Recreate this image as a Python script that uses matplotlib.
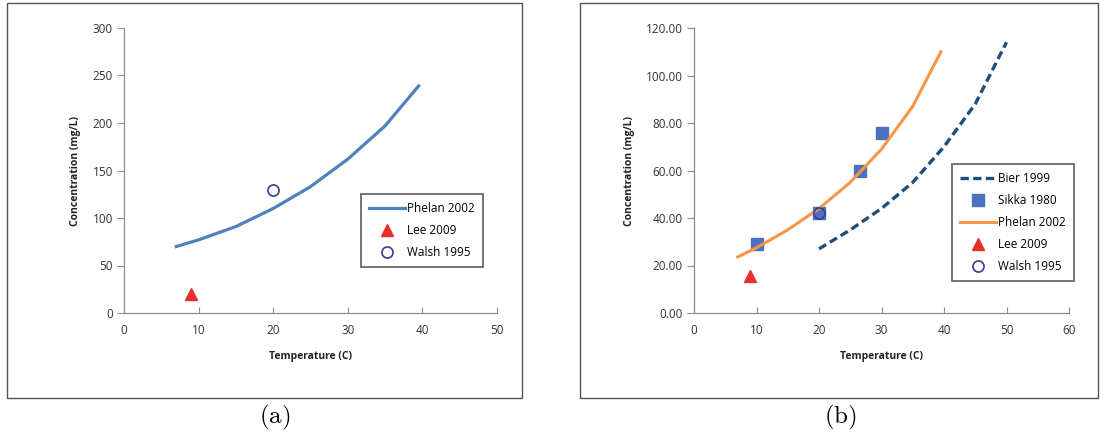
import matplotlib
matplotlib.use("Agg")
import matplotlib.pyplot as plt
from matplotlib.patches import Rectangle

# ---- data ----
phelan_a_t = [7, 10, 15, 20, 25, 30, 35, 39.5]
phelan_a_c = [70, 77, 91, 110, 133, 162, 197, 239]
lee_t = [9]
lee_a_c = [20]
walsh_t = [20]
walsh_a_c = [130]

bier_t = [20, 25, 30, 35, 40, 45, 50]
bier_c = [27, 35, 44, 55, 70, 88, 114]
sikka_t = [10, 20, 26.5, 30]
sikka_c = [29, 42, 60, 76]
phelan_b_t = [7, 10, 15, 20, 25, 30, 35, 39.5]
phelan_b_c = [23.6, 27.5, 35, 44, 55, 69, 87, 110]
lee_b_c = [15.5]
walsh_b_c = [42]

xticks_a = [0, 10, 20, 30, 40, 50]
yticks_a = [0, 50, 100, 150, 200, 250, 300]
xticks_b = [0, 10, 20, 30, 40, 50, 60]
yticks_b = [0, 20, 40, 60, 80, 100, 120]

plt.rcParams['font.family'] = ['Open Sans', 'DejaVu Sans']
W, H = 1101, 436
fig = plt.figure(figsize=(W / 100, H / 100), dpi=100)

BLUE = '#4F81BD'
ORANGE = '#F79646'
RED = '#E8302A'
NAVY = '#3B3B8C'
DARK = '#1F4E79'
GRAY = '#8C8C8C'

# panel frames
for (x0, x1) in [(7, 522), (580, 1098)]:
    fig.patches.append(Rectangle((x0 / W, 1 - 398 / H), (x1 - x0) / W, (398 - 3) / H,
                                 transform=fig.transFigure, fill=False,
                                 edgecolor='#555555', linewidth=1.0))

def style(ax, xt, yt, yfmt):
    for s in ['top', 'right']:
        ax.spines[s].set_visible(False)
    for s in ['left', 'bottom']:
        ax.spines[s].set_color(GRAY)
        ax.spines[s].set_linewidth(0.9)
    ax.set_xticks(xt)
    ax.set_yticks(yt)
    ax.set_yticklabels([yfmt.format(v) for v in yt])
    ax.tick_params(axis='y', direction='out', length=5, color=GRAY, labelsize=8.5,
                   labelcolor='#333333', pad=3)
    ax.tick_params(axis='x', direction='in', length=4, color=GRAY, labelsize=8.5,
                   labelcolor='#333333', pad=8)
    ax.set_xlabel('Temperature (C)', fontsize=7.5, fontweight='bold', labelpad=10, color='#222222')
    ax.set_ylabel('Concentration (mg/L)', fontsize=7.5, fontweight='bold', labelpad=8, color='#222222')

# ---- panel (a) ----
axa = fig.add_axes([124 / W, 1 - 313 / H, (497 - 124) / W, (313 - 28) / H])
axa.plot(phelan_a_t, phelan_a_c, color=BLUE, lw=2.3, label='Phelan 2002')
axa.plot(lee_t, lee_a_c, ls='none', marker='^', ms=8, color=RED, label='Lee 2009')
axa.plot(walsh_t, walsh_a_c, ls='none', marker='o', ms=8, mfc='white', mec=NAVY, mew=1.2,
         label='Walsh 1995')
axa.set_xlim(0, 50)
axa.set_ylim(0, 300)
style(axa, xticks_a, yticks_a, '{:d}')
leg = axa.legend(loc='upper left', bbox_to_anchor=((361 - 124) / (497 - 124), (313 - 194) / (313 - 28)),
                 fontsize=8.5, frameon=True, fancybox=False, edgecolor='#333333',
                 labelspacing=0.75, borderpad=0.7, handlelength=3.0, handletextpad=0.2,
                 borderaxespad=0)
leg.get_frame().set_linewidth(1.2)

# ---- panel (b) ----
axb = fig.add_axes([694 / W, 1 - 313 / H, (1069 - 694) / W, (313 - 28) / H])
axb.plot(bier_t, bier_c, color=DARK, lw=2.4, ls=(0, (2.5, 1.3)), label='Bier 1999')
axb.plot(sikka_t, sikka_c, ls='none', marker='s', ms=8, color='#4A72C0', label='Sikka 1980')
axb.plot(phelan_b_t, phelan_b_c, color=ORANGE, lw=2.2, label='Phelan 2002')
axb.plot(lee_t, lee_b_c, ls='none', marker='^', ms=8, color=RED, label='Lee 2009')
axb.plot(walsh_t, walsh_b_c, ls='none', marker='o', ms=8, mfc='none', mec=NAVY, mew=1.2,
         label='Walsh 1995')
axb.set_xlim(0, 60)
axb.set_ylim(0, 120)
style(axb, xticks_b, yticks_b, '{:.2f}')
leg = axb.legend(loc='upper left', bbox_to_anchor=((952 - 694) / (1069 - 694), (313 - 164) / (313 - 28)),
                 fontsize=8.5, frameon=True, fancybox=False, edgecolor='#333333',
                 labelspacing=0.75, borderpad=0.7, handlelength=3.0, handletextpad=0.2,
                 borderaxespad=0)
leg.get_frame().set_linewidth(1.2)

# captions
plt.rcParams['mathtext.fontset'] = 'cm'
fig.text(275 / W, 1 - 417 / H, r'$\mathrm{(a)}$', ha='center', va='center', fontsize=18)
fig.text(840 / W, 1 - 417 / H, r'$\mathrm{(b)}$', ha='center', va='center', fontsize=18)

fig.savefig('out.png', dpi=100)
